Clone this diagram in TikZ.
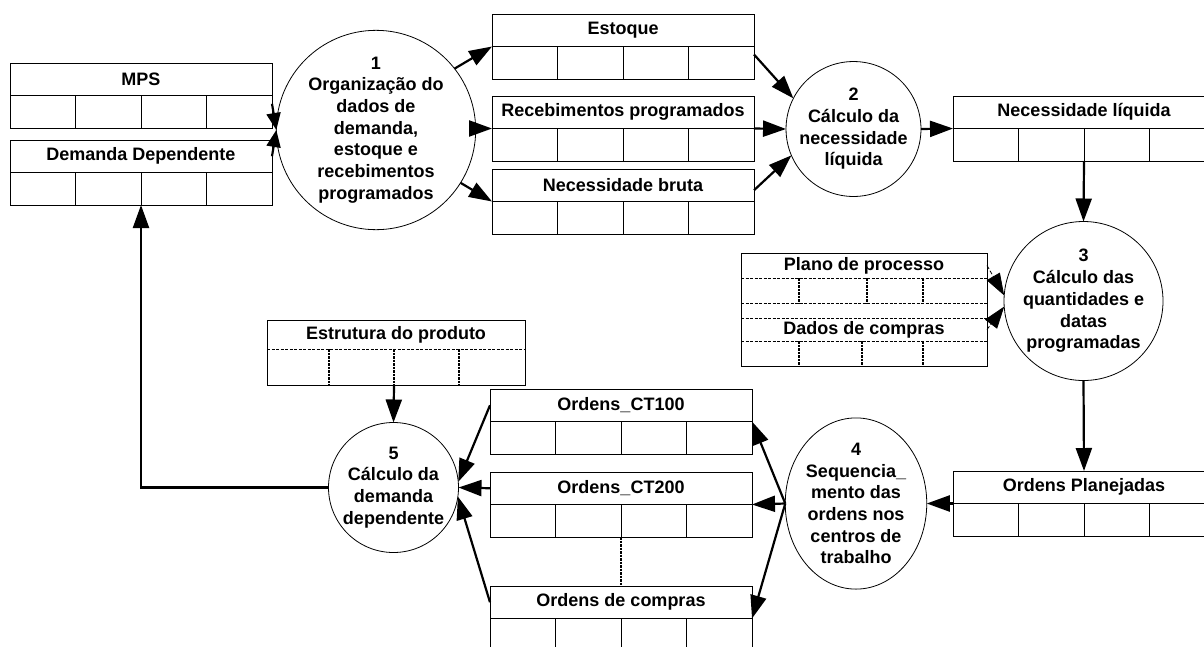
\documentclass[tikz,border=0pt]{standalone}
\usepackage{fontspec}
\setmainfont{Liberation Sans}
\usetikzlibrary{arrows.meta,shapes.geometric}
\begin{document}
\begin{tikzpicture}[
        x=1pt, y=-1pt,
        every node/.style={font=\fontsize{18}{21.7}\selectfont\bfseries},
        titulo/.style={draw, line width=1pt, rectangle, anchor=north west, minimum width=262pt, minimum height=32.5pt, inner sep=0pt, outer sep=0pt},
        celula/.style={draw, line width=1pt, rectangle, anchor=north west, minimum width=65.5pt, minimum height=32.5pt, inner sep=0pt, outer sep=0pt},
        processo/.style={draw, circle, line width=0.8pt, align=center, inner sep=0pt, outer sep=0pt},
        rotulo/.style={inner sep=0pt, outer sep=0pt},
        borda/.style={line width=1pt},
        tracejado/.style={line width=0.8pt, dash pattern=on 3pt off 1.5pt},
        coluna/.style={line width=2.6pt, dash pattern=on 2.6pt off 0.9pt},
        fluxo/.style={line width=2.2pt, -{Triangle[length=23pt, width=16pt]}},
        fluxocurto/.style={line width=2.2pt, -{Triangle[length=17pt, width=14pt]}},
        fluxofino/.style={line width=0.8pt, dash pattern=on 4pt off 2pt, -{Triangle[length=22pt, width=15pt]}},
    ]
    \clip (0,0) rectangle (1204,646);
    \foreach \nome/\x/\y/\texto in {mps/10/63/MPS, demdep/10/140/Demanda Dependente,
        estoque/492/14/Estoque, receb/492/96/Recebimentos programados,
        nbruta/492/169/Necessidade bruta, nliq/953/96/Necessidade líquida,
        oplan/953/471/Ordens Planejadas, ct100/490/389/Ordens\_CT100,
        ct200/490/472/Ordens\_CT200, compras/490/586/Ordens de compras}{
        \node[titulo] (\nome) at (\x,\y) {\texto};
        \foreach \i in {0,...,3}
            \node[celula] (\nome-\i) at (\x+\i*65.5,\y+32.5) {};
    }

    \draw[borda] (741,253) rectangle (987,366);
    \draw[tracejado] (741,278) -- (987,278);
    \draw[tracejado] (741,303) -- (987,303);
    \draw[tracejado] (741,318) -- (987,318);
    \draw[tracejado] (741,341) -- (987,341);
    \foreach \x in {799,867,923}
        \draw[coluna] (\x,278) -- (\x,303);
    \foreach \x in {799,862,923}
        \draw[coluna] (\x,341) -- (\x,366);
    \node[rotulo, minimum width=246pt] (plano) at (864,265.5) {Plano de processo};
    \node[rotulo, minimum width=246pt] (dados) at (864,329.5) {Dados de compras};

    \draw[borda] (267,320) rectangle (525,385);
    \draw[tracejado] (267,349) -- (525,349);
    \foreach \x in {329,394,459}
        \draw[coluna] (\x,349) -- (\x,385);
    \node[rotulo] (estr) at (396,334.5) {Estrutura do produto};
    \coordinate (estr-base) at (394,385);

    \node[processo, minimum size=178pt] (c1) at (376,130)
        {1\\Organização do\\dados de\\demanda,\\estoque e\\recebimentos\\programados};
    \node[processo, minimum size=131pt] (c2) at (853.5,129)
        {2\\Cálculo da\\necessidade\\líquida};
    \node[processo, minimum size=159pt] (c3) at (1083.5,301)
        {3\\Cálculo das\\quantidades e\\datas\\programadas};
    \node[processo, ellipse, minimum width=132pt, minimum height=147pt] (c4) at (856,503.5)
        {4\\Sequencia\_\\mento das\\ordens nos\\centros de\\trabalho};
    \node[processo, minimum size=130pt] (c5) at (393.5,487.5)
        {5\\Cálculo da\\demanda\\dependente};

    \draw[fluxocurto] ([yshift=8pt]mps-3.east) -- (c1.west);
    \draw[fluxocurto] (demdep.east) -- (c1.west);
    \draw[fluxo] (c1.38) -- (estoque.south west);
    \draw[fluxo] (c1.east |- receb.south west) -- (receb.south west);
    \draw[fluxo] (c1.-32) -- (nbruta.south west);
    \draw[fluxo] ([yshift=-8pt]estoque.south east) -- (c2.153);
    \draw[fluxo] (receb.south east) -- (c2.west);
    \draw[fluxo] ([yshift=-5pt]nbruta.east) -- (c2.203);
    \draw[fluxo] (c2.east) -- (nliq.south west);
    \draw[fluxo] (nliq-2.south west) -- (c3.north);
    \draw[fluxofino] (plano.east) -- (c3.176);
    \draw[fluxofino] (dados.east) -- (c3.184);
    \draw[fluxo] (c3.south) -- (oplan.north);
    \draw[fluxo] (oplan.south west) -- (c4.east);
    \draw[fluxo] (c4.west) -- (ct100.south east);
    \draw[fluxo] (c4.west) -- (ct200.south east);
    \draw[fluxo] (c4.west) -- (compras.south east);
    \draw[coluna] (ct200-2.south west) -- (compras.north);
    \draw[fluxo] (ct100.west) -- (c5.5);
    \draw[fluxo] (ct200.west) -- (c5.east);
    \draw[fluxo] (compras.west) -- (c5.-8);
    \draw[fluxo] (estr-base) -- (c5.north);
    \draw[fluxo] (c5.west) -| (demdep-2.south west);
\end{tikzpicture}
\end{document}
